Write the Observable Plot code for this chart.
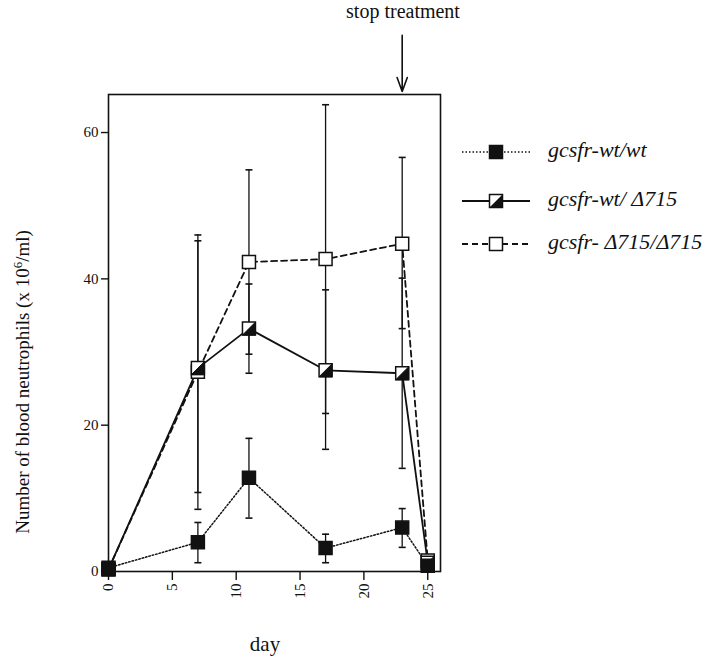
<!DOCTYPE html>
<html>
<head>
<meta charset="utf-8">
<script src="https://cdn.jsdelivr.net/npm/d3@7"></script>
<script src="https://cdn.jsdelivr.net/npm/@observablehq/plot@0.6"></script>
<style>
  html, body { margin: 0; padding: 0; background: #fff; }
  #wrap { position: relative; width: 720px; height: 668px; font-family: "Liberation Serif", "DejaVu Serif", serif; color: #111; }
  #wrap svg.plot { position: absolute; left: 0; top: 0; }
  #wrap svg.plot text { font-size: 15px !important; font-family: "Liberation Serif", serif !important; }
  .txt { position: absolute; white-space: nowrap; }
  .leg { position: absolute; left: 460px; width: 260px; height: 30px; }
  .leg svg { position: absolute; left: 0; top: 0; }
  .leg span { position: absolute; left: 88px; top: -1px; font-family: "Liberation Serif", "Times New Roman", serif; font-style: italic; font-size: 22px; }
</style>
</head>
<body>
<div id="wrap"></div>
<script>
// ---- data ----
const days = [0, 7, 11, 17, 23, 25];
const seriesNames = ["gcsfr-wt/wt", "gcsfr-wt/ Δ715", "gcsfr- Δ715/Δ715"];
const wtMean = [0.5, 4.0, 12.8, 3.2, 6.0, 0.8];
const wtLow  = [null, 1.2, 7.3, 1.2, 3.3, null];
const wtHigh = [null, 6.7, 18.2, 5.1, 8.6, null];
const hetMean = [0.3, 27.8, 33.2, 27.5, 27.1, 1.2];
const hetLow  = [null, 10.8, 27.1, 16.7, 14.1, null];
const hetHigh = [null, 45.2, 39.3, 38.5, 40.1, null];
const homMean = [0.3, 27.3, 42.3, 42.7, 44.8, 1.5];
const homLow  = [null, 8.5, 29.7, 21.6, 33.2, null];
const homHigh = [null, 46.0, 54.9, 63.8, 56.6, null];
const xTicks = [0, 5, 10, 15, 20, 25];
const yTicks = [0, 20, 40, 60];
const stopDay = [23];
const arrowFrom = [73.3];
const arrowTo = [65.6];

// ---- tables ----
function table(mean, lo, hi) {
  return days.map((d, i) => ({day: d, v: mean[i], lo: lo[i], hi: hi[i]}));
}
const wt = table(wtMean, wtLow, wtHigh);
const het = table(hetMean, hetLow, hetHigh);
const hom = table(homMean, homLow, homHigh);
const errs = [...hom, ...het, ...wt].filter(d => d.lo != null);
const arrows = stopDay.map((d, i) => ({day: d, y1: arrowFrom[i], y2: arrowTo[i]}));

// ---- custom symbols ----
const S = 6.5;
const square = {draw(ctx) { ctx.moveTo(-S, -S); ctx.lineTo(S, -S); ctx.lineTo(S, S); ctx.lineTo(-S, S); ctx.closePath(); }};
const halfTri = {draw(ctx) { ctx.moveTo(S, -S); ctx.lineTo(S, S); ctx.lineTo(-S, S); ctx.closePath(); }};
const cap = {draw(ctx) { ctx.moveTo(-3.5, 0); ctx.lineTo(3.5, 0); }};

const chart = Plot.plot({
  width: 720,
  height: 668,
  marginLeft: 108,
  marginRight: 280,
  marginTop: 94,
  marginBottom: 97,
  style: {fontFamily: "Liberation Serif, serif", fontSize: "15px", color: "#111", background: "transparent"},
  x: {domain: [0, 26]},
  y: {domain: [0, 65.2]},
  marks: [
    Plot.frame({stroke: "#111", strokeWidth: 1.6}),
    Plot.axisY({ticks: yTicks, tickSize: 7, tickPadding: 3, label: null, strokeWidth: 1.4, fontSize: 15}),
    Plot.axisX({ticks: xTicks, tickSize: 9, tickPadding: 3, tickRotate: -90, label: null, strokeWidth: 1.4, fontSize: 15}),
    // error bars
    Plot.ruleX(errs, {x: "day", y1: "lo", y2: "hi", stroke: "#111", strokeWidth: 1.3}),
    Plot.dot(errs, {x: "day", y: "lo", symbol: cap, stroke: "#111", strokeWidth: 1.6, fill: "none"}),
    Plot.dot(errs, {x: "day", y: "hi", symbol: cap, stroke: "#111", strokeWidth: 1.6, fill: "none"}),
    // lines
    Plot.line(hom, {x: "day", y: "v", stroke: "#111", strokeWidth: 1.8, strokeDasharray: "6,4"}),
    Plot.line(het, {x: "day", y: "v", stroke: "#111", strokeWidth: 1.8}),
    Plot.line(wt, {x: "day", y: "v", stroke: "#111", strokeWidth: 1.5, strokeDasharray: "1.5,2"}),
    // markers
    Plot.dot(hom, {x: "day", y: "v", symbol: square, fill: "white", stroke: "#111", strokeWidth: 1.5}),
    Plot.dot(het, {x: "day", y: "v", symbol: square, fill: "white", stroke: "#111", strokeWidth: 1.5}),
    Plot.dot(het, {x: "day", y: "v", symbol: halfTri, fill: "#111", stroke: "#111", strokeWidth: 1}),
    Plot.dot(wt, {x: "day", y: "v", symbol: square, fill: "#111", stroke: "#111", strokeWidth: 1.5}),
    // stop-treatment arrow
    Plot.arrow(arrows, {x: "day", y1: "y1", y2: "y2", stroke: "#111", strokeWidth: 1.6, headLength: 14, headAngle: 40})
  ]
});
chart.classList.add("plot");
const wrap = document.getElementById("wrap");
wrap.appendChild(chart);

// ---- texts ----
function addText(html, css) {
  const d = document.createElement("div");
  d.className = "txt";
  d.innerHTML = html;
  Object.assign(d.style, css);
  wrap.appendChild(d);
  return d;
}
addText("stop treatment", {left: "403px", top: "0px", transform: "translateX(-50%)", fontSize: "20px"});
addText("day", {left: "265px", top: "632px", transform: "translateX(-50%)", fontSize: "21px"});
addText("Number of blood neutrophils (x 10<sup style=\"font-size:13px\">6</sup>/ml)",
  {left: "22px", top: "382px", transform: "translate(-50%,-50%) rotate(-90deg)", fontSize: "19px"});

// ---- legend ----
const legendRows = [
  {top: 138, dash: "1.5,2", sw: 1.5, fill: "#111", half: false},
  {top: 187, dash: null, sw: 1.8, fill: "white", half: true},
  {top: 230, dash: "6,4", sw: 1.8, fill: "white", half: false}
];
legendRows.forEach((r, i) => {
  const d = document.createElement("div");
  d.className = "leg";
  d.style.top = r.top + "px";
  const dash = r.dash ? `stroke-dasharray="${r.dash}"` : "";
  d.innerHTML = `<svg width="80" height="30">
    <line x1="2" x2="70" y1="14" y2="14" stroke="#111" stroke-width="${r.sw}" ${dash}/>
    <rect x="29.5" y="7.5" width="13" height="13" fill="${r.fill}" stroke="#111" stroke-width="1.5"/>
    ${r.half ? '<path d="M42.5,7.5L42.5,20.5L29.5,20.5Z" fill="#111"/>' : ''}
  </svg><span>${seriesNames[i]}</span>`;
  wrap.appendChild(d);
});
</script>
</body>
</html>
